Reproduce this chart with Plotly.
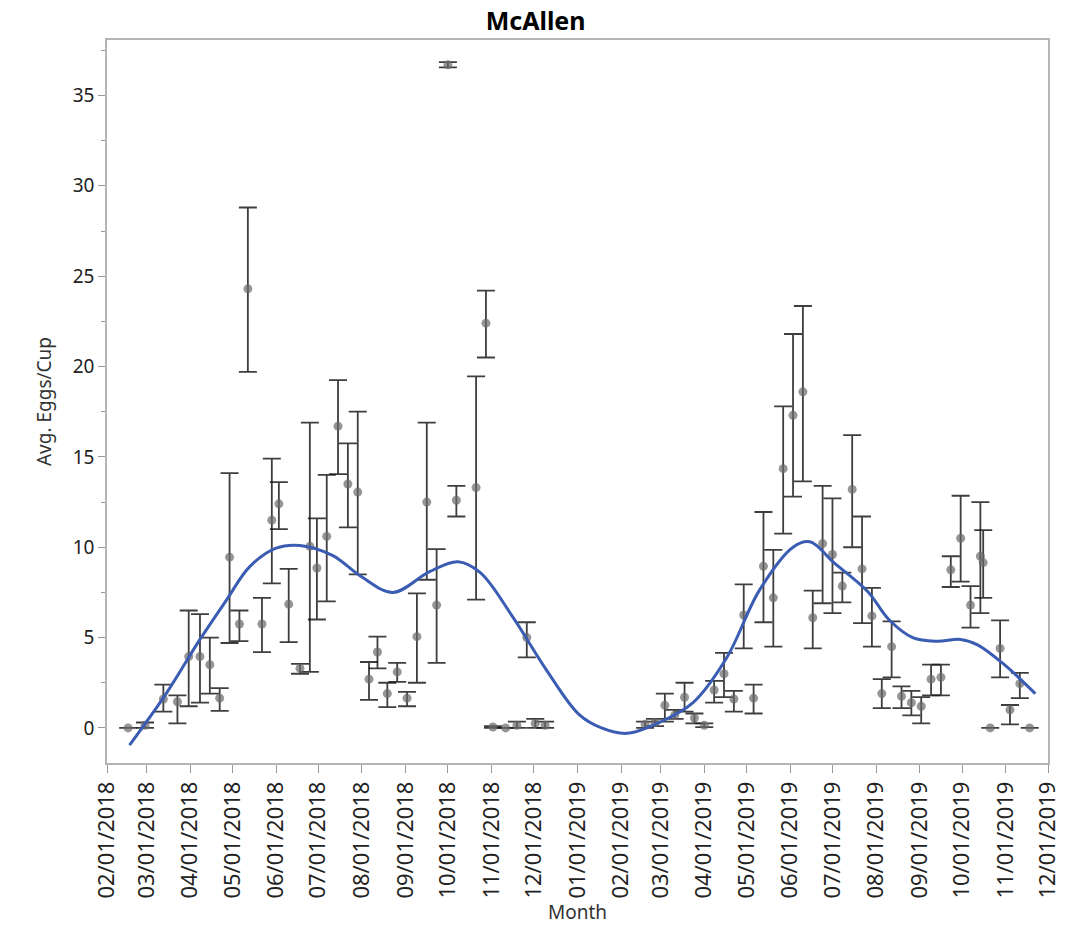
import plotly.graph_objects as go

# Weekly trap collections, McAllen (average eggs per ovicup with interval bounds)
sample_dates = [
    "2018-02-16", "2018-02-28", "2018-03-13", "2018-03-23", "2018-03-31",
    "2018-04-08", "2018-04-15", "2018-04-22", "2018-04-29", "2018-05-06",
    "2018-05-12", "2018-05-22", "2018-05-29", "2018-06-03", "2018-06-10",
    "2018-06-18", "2018-06-25", "2018-06-30", "2018-07-07", "2018-07-15",
    "2018-07-22", "2018-07-29", "2018-08-06", "2018-08-12", "2018-08-19",
    "2018-08-26", "2018-09-02", "2018-09-09", "2018-09-16", "2018-09-23",
    "2018-10-01", "2018-10-07", "2018-10-21", "2018-10-28", "2018-11-02",
    "2018-11-11", "2018-11-19", "2018-11-26", "2018-12-02", "2018-12-09",
    "2019-02-18", "2019-02-25", "2019-03-04", "2019-03-11", "2019-03-18",
    "2019-03-25", "2019-04-01", "2019-04-08", "2019-04-15", "2019-04-22",
    "2019-04-29", "2019-05-06", "2019-05-13", "2019-05-20", "2019-05-27",
    "2019-06-03", "2019-06-10", "2019-06-17", "2019-06-24", "2019-07-01",
    "2019-07-08", "2019-07-15", "2019-07-22", "2019-07-29", "2019-08-05",
    "2019-08-12", "2019-08-19", "2019-08-26", "2019-09-02", "2019-09-09",
    "2019-09-16", "2019-09-23", "2019-09-30", "2019-10-07", "2019-10-14",
    "2019-10-16", "2019-10-21", "2019-10-28", "2019-11-04", "2019-11-11",
    "2019-11-18",
]

avg_eggs = [
    0, 0.15, 1.6, 1.45, 3.95, 3.95, 3.5, 1.65, 9.45, 5.75,
    24.3, 5.75, 11.5, 12.4, 6.85, 3.3, 10.05, 8.85, 10.6, 16.7,
    13.5, 13.05, 2.7, 4.2, 1.9, 3.1, 1.65, 5.05, 12.5, 6.8,
    36.7, 12.6, 13.3, 22.4, 0.05, 0, 0.15, 5.0, 0.25, 0.15,
    0.2, 0.3, 1.25, 0.7, 1.7, 0.55, 0.15, 2.1, 3.0, 1.6,
    6.25, 1.65, 8.95, 7.2, 14.35, 17.3, 18.6, 6.1, 10.2, 9.6,
    7.85, 13.2, 8.8, 6.2, 1.9, 4.5, 1.75, 1.4, 1.2, 2.7,
    2.8, 8.75, 10.5, 6.8, 9.5, 9.15, 0, 4.4, 1.0, 2.45,
    0,
]

ci_lower = [
    0, 0, 0.9, 0.25, 1.2, 1.4, 1.9, 0.95, 4.7, 4.8,
    19.7, 4.2, 8.0, 11.0, 4.75, 3.0, 3.1, 6.0, 7.0, 14.05,
    11.1, 8.5, 1.55, 3.3, 1.15, 2.55, 1.2, 2.5, 8.2, 3.6,
    36.55, 11.7, 7.1, 20.5, 0, 0, 0, 3.9, 0, 0,
    0, 0.1, 0.35, 0.5, 0.9, 0.25, 0.05, 1.4, 1.7, 0.9,
    4.4, 0.8, 5.85, 4.5, 10.75, 12.8, 13.65, 4.4, 6.9, 6.35,
    6.95, 10.0, 5.8, 4.5, 1.1, 2.8, 1.1, 0.7, 0.25, 1.8,
    1.8, 7.8, 8.1, 5.55, 6.35, 7.2, 0, 2.8, 0.2, 1.65,
    0,
]

ci_upper = [
    0, 0.3, 2.4, 1.8, 6.5, 6.3, 5.0, 2.2, 14.1, 6.5,
    28.8, 7.2, 14.9, 13.6, 8.8, 3.55, 16.9, 11.6, 14.0, 19.25,
    15.75, 17.5, 3.65, 5.05, 2.5, 3.6, 2.0, 7.45, 16.9, 9.9,
    36.85, 13.4, 19.45, 24.2, 0.1, 0, 0.35, 5.85, 0.5, 0.35,
    0.35, 0.5, 1.9, 1.0, 2.5, 0.8, 0.25, 2.6, 4.15, 2.05,
    7.95, 2.4, 11.95, 9.85, 17.8, 21.8, 23.35, 7.6, 13.4, 12.7,
    8.6, 16.2, 11.7, 7.75, 2.7, 5.9, 2.3, 2.05, 1.7, 3.5,
    3.5, 9.5, 12.85, 7.85, 12.5, 10.95, 0, 5.95, 1.27, 3.05,
    0,
]

# Smoothed seasonal trend
trend_dates = [
    "2018-02-17", "2018-03-15", "2018-04-08", "2018-04-27", "2018-05-13",
    "2018-06-01", "2018-06-18", "2018-07-11", "2018-08-01", "2018-08-23",
    "2018-09-18", "2018-10-08", "2018-10-24", "2018-11-16", "2018-12-10",
    "2019-01-02", "2019-01-18", "2019-02-05", "2019-02-28", "2019-03-24",
    "2019-04-17", "2019-05-10", "2019-06-03", "2019-06-15", "2019-07-02",
    "2019-07-26", "2019-08-10", "2019-08-27", "2019-09-13", "2019-09-30",
    "2019-10-12", "2019-10-31", "2019-11-22",
]
trend_values = [
    -0.95, 1.9, 4.9, 7.1, 8.9,
    9.95, 10.1, 9.55, 8.35, 7.5,
    8.65, 9.2, 8.6, 6.15, 3.2,
    0.75, 0.0, -0.3, 0.3, 1.4,
    3.9, 7.6, 10.0, 10.3, 9.15,
    7.55, 6.0, 5.0, 4.8, 4.9,
    4.6, 3.5, 1.9,
]

month_ticks = [
    "2018-02-01", "2018-03-01", "2018-04-01", "2018-05-01", "2018-06-01",
    "2018-07-01", "2018-08-01", "2018-09-01", "2018-10-01", "2018-11-01",
    "2018-12-01", "2019-01-01", "2019-02-01", "2019-03-01", "2019-04-01",
    "2019-05-01", "2019-06-01", "2019-07-01", "2019-08-01", "2019-09-01",
    "2019-10-01", "2019-11-01", "2019-12-01",
]
y_ticks = [0, 5, 10, 15, 20, 25, 30, 35]

err_plus = [hi - m for hi, m in zip(ci_upper, avg_eggs)]
err_minus = [m - lo for m, lo in zip(avg_eggs, ci_lower)]

FONT = "Noto Sans"
AXIS_GRAY = "#b4b4b4"

fig = go.Figure()

fig.add_trace(go.Scatter(
    x=sample_dates,
    y=avg_eggs,
    mode="markers",
    marker=dict(size=9, color="rgba(105,105,105,0.7)", line=dict(width=0)),
    error_y=dict(
        type="data",
        symmetric=False,
        array=err_plus,
        arrayminus=err_minus,
        color="rgba(20,20,20,0.82)",
        thickness=1.8,
        width=9,
    ),
    showlegend=False,
))

fig.add_trace(go.Scatter(
    x=trend_dates,
    y=trend_values,
    mode="lines",
    line=dict(color="#3a5cb2", width=3, shape="spline", smoothing=1.0),
    showlegend=False,
))

fig.update_layout(
    width=1082,
    height=927,
    margin=dict(l=107, r=34, t=40, b=164),
    paper_bgcolor="white",
    plot_bgcolor="white",
    font=dict(family=FONT, color="#222222"),
    title=dict(
        text="<b>McAllen</b>",
        x=0.495, xref="container", xanchor="center",
        y=1 - 21 / 927, yref="container", yanchor="middle",
        font=dict(family=FONT, size=25, color="black"),
    ),
    showlegend=False,
)

fig.update_xaxes(
    type="date",
    range=["2018-02-01", "2019-12-01"],
    tickvals=month_ticks,
    tickformat="%m/%d/%Y",
    tickangle=-90,
    ticks="outside",
    ticklen=8,
    tickcolor="#9a9a9a",
    tickfont=dict(family=FONT, size=22, color="#222222"),
    showline=True,
    linecolor=AXIS_GRAY,
    linewidth=1.5,
    mirror=True,
    showgrid=False,
    zeroline=False,
    automargin=False,
    title=dict(text="Month", font=dict(family=FONT, size=19, color="#333333"), standoff=8),
)

fig.update_yaxes(
    range=[-1.94, 38.07],
    tickvals=y_ticks,
    ticks="outside",
    ticklen=7,
    tickcolor="#9a9a9a",
    tickfont=dict(family=FONT, size=19, color="#222222"),
    minor=dict(dtick=2.5, tick0=0, ticks="outside", ticklen=4, tickcolor="#9a9a9a"),
    showline=True,
    linecolor=AXIS_GRAY,
    linewidth=1.5,
    mirror=True,
    showgrid=False,
    zeroline=False,
    automargin=False,
    title=dict(text="Avg. Eggs/Cup", font=dict(family=FONT, size=19, color="#333333"), standoff=16),
)

fig.write_html("out.html")
